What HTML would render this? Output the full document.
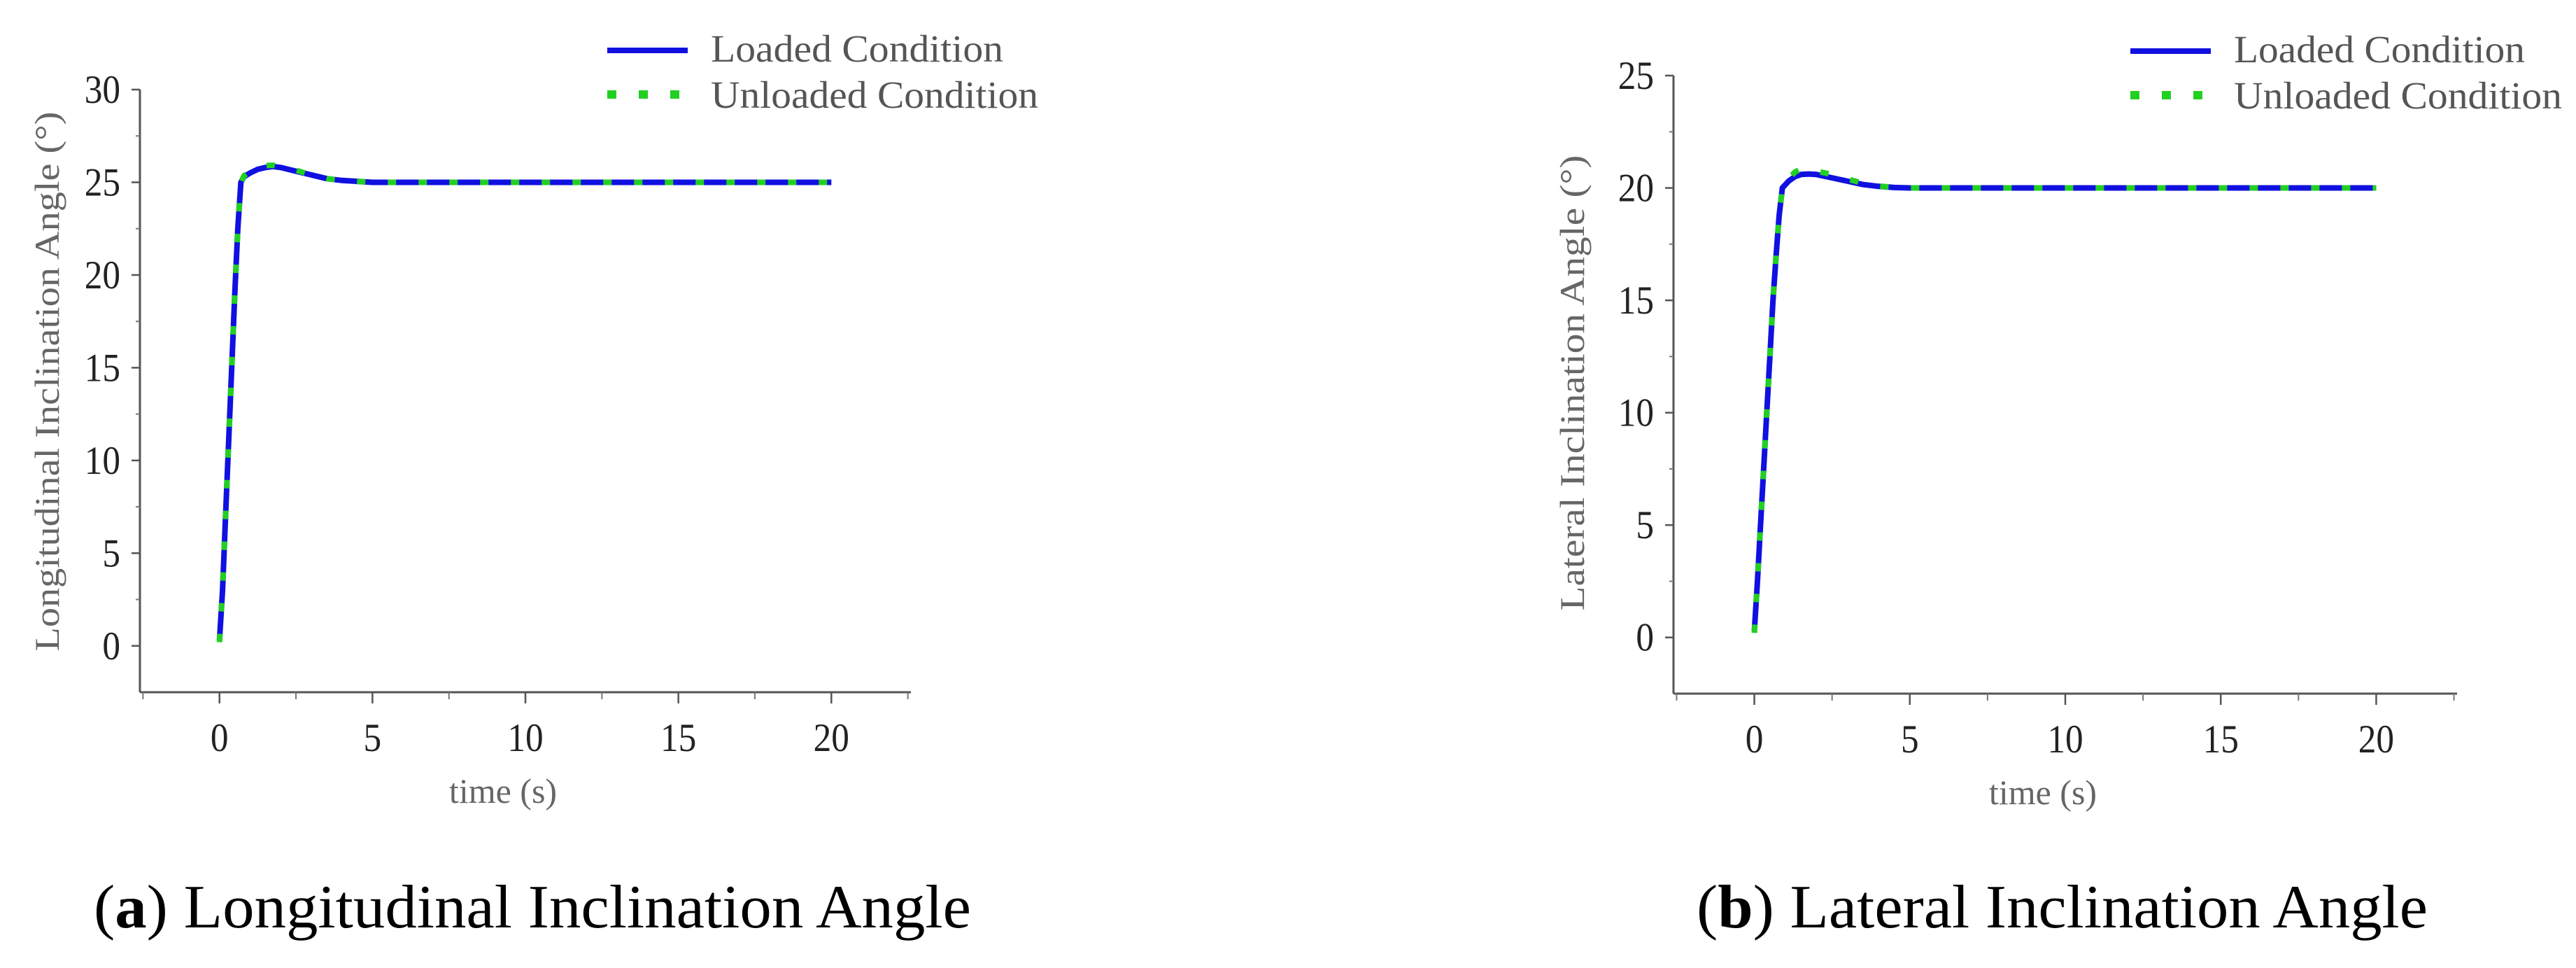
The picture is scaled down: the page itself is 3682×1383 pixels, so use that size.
<!DOCTYPE html>
<html><head><meta charset="utf-8"><style>
html,body{margin:0;padding:0;background:#fff;}
svg{display:block;}
</style></head><body>
<svg id="fig" width="3682" height="1383" viewBox="0 0 3682 1383" xmlns="http://www.w3.org/2000/svg">
<text x="134" y="1325" font-family="Liberation Serif, serif" font-size="88" fill="#000" textLength="1254" lengthAdjust="spacingAndGlyphs">(<tspan font-weight="bold">a</tspan>) Longitudinal Inclination Angle</text>
<text x="2425" y="1325" font-family="Liberation Serif, serif" font-size="88" fill="#000" textLength="1045" lengthAdjust="spacingAndGlyphs">(<tspan font-weight="bold">b</tspan>) Lateral Inclination Angle</text>
</svg>
<script>
// Chart A data
const timeA = [0,0.1,0.2,0.3,0.4,0.5,0.6,0.7,0.8,1.0,1.25,1.5,1.75,2,2.5,3,3.5,4,4.5,5,6,8,10,12,14,16,18,20];
const loadedA = [0.3,3,7,11,15,19,22.5,25,25.3,25.5,25.7,25.8,25.85,25.8,25.6,25.4,25.2,25.1,25.05,25.0,25,25,25,25,25,25,25,25];
const unloadedA = [0.2,3,7,11,15,19,22.5,25,25.35,25.6,25.8,25.9,25.92,25.85,25.65,25.4,25.2,25.1,25.05,25.0,25,25,25,25,25,25,25,25];
const yTicksA = [0,5,10,15,20,25,30];
// Chart B data
const timeB = [0,0.1,0.2,0.3,0.4,0.5,0.6,0.7,0.8,0.9,1.1,1.3,1.5,1.75,2,2.5,3,3.5,4,4.5,5,6,8,10,12,14,16,18,20];
const loadedB = [0.3,2.5,5,7.5,10,12.5,15,17,18.8,20,20.3,20.5,20.6,20.62,20.6,20.45,20.3,20.15,20.07,20.02,20.0,20,20,20,20,20,20,20,20];
const unloadedB = [0.2,2.5,5,7.5,10,12.5,15,17,18.8,20,20.4,20.7,20.85,20.8,20.75,20.6,20.4,20.2,20.08,20.03,20.0,20,20,20,20,20,20,20,20];
const yTicksB = [0,5,10,15,20,25];
const xTicks = [0,5,10,15,20];

const NS = 'http://www.w3.org/2000/svg';
const svg = document.getElementById('fig');
function mk(tag, attrs, parent){
  const e = document.createElementNS(NS, tag);
  for (const k in attrs) e.setAttribute(k, attrs[k]);
  (parent||svg).appendChild(e);
  return e;
}

function chart(cfg){
  const g = mk('g', {});
  
  
  const xMin=-2.6, xMax=22.6;
  const sx = v => cfg.x0 + (v - xMin) / (xMax - xMin) * (cfg.x1 - cfg.x0);
  const sy = v => cfg.yb - (v - cfg.yMin) / (cfg.yMax - cfg.yMin) * (cfg.yb - cfg.yt);
  const ya = mk('line', {x1:cfg.x0, y1:cfg.yt, x2:cfg.x0, y2:cfg.yb, stroke:'#555', 'stroke-width':3}, g);
  
  
  const xa = mk('line', {x1:cfg.x0, y1:cfg.yb, x2:cfg.x1, y2:cfg.yb, stroke:'#555', 'stroke-width':3}, g);
  
  
  cfg.yTicks.forEach((v,i) => {
    const y = sy(v);
    mk('line', {x1:cfg.x0-12, y1:y, x2:cfg.x0, y2:y, stroke:'#555', 'stroke-width':2.5}, g);
    if (i < cfg.yTicks.length-1) {
      const ym = sy(v+2.5);
      mk('line', {x1:cfg.x0-6, y1:ym, x2:cfg.x0, y2:ym, stroke:'#777', 'stroke-width':2}, g);
    }
    const t = mk('text', {x:cfg.x0-28, y:y+19, 'text-anchor':'end', 'font-family':'Liberation Serif, serif', 'font-size':57, fill:'#222', transform:`translate(${cfg.x0-28},0) scale(0.9,1) translate(${-(cfg.x0-28)},0)`}, g);
    t.textContent = v;
    
    
  });
  xTicks.forEach((v,i) => {
    const x = sx(v);
    mk('line', {x1:x, y1:cfg.yb, x2:x, y2:cfg.yb+16, stroke:'#555', 'stroke-width':2.5}, g);
    const xm = sx(v+2.5);
    mk('line', {x1:xm, y1:cfg.yb, x2:xm, y2:cfg.yb+10, stroke:'#777', 'stroke-width':2}, g);
    const t = mk('text', {x:x, y:cfg.yb+84, 'text-anchor':'middle', 'font-family':'Liberation Serif, serif', 'font-size':57, fill:'#222', transform:`translate(${x},0) scale(0.9,1) translate(${-x},0)`}, g);
    t.textContent = v;
    
    
  });
  mk('line', {x1:sx(-2.5), y1:cfg.yb, x2:sx(-2.5), y2:cfg.yb+10, stroke:'#777', 'stroke-width':2}, g);
  const xt = mk('text', {x:(sx(0)+sx(20))/2-32, y:cfg.yb+158, 'text-anchor':'middle', 'font-family':'Liberation Serif, serif', 'font-size':50, fill:'#666'}, g);
  xt.textContent = 'time (s)';
  
  
  const yt = mk('text', {x:0, y:0, 'text-anchor':'middle', 'font-family':'Liberation Serif, serif', 'font-size':cfg.ylFont, fill:'#666', textLength:cfg.ylLen, lengthAdjust:'spacingAndGlyphs', transform:`translate(${cfg.ylx},${cfg.yly}) rotate(-90)`}, g);
  yt.textContent = cfg.ylabel;
  
  
  const path = (ts, vs) => ts.map((t,i) => (i?'L':'M') + sx(t).toFixed(1) + ',' + sy(vs[i]).toFixed(1)).join(' ');
  const l = mk('path', {d:path(cfg.t, cfg.loaded), fill:'none', stroke:'#1010e0', 'stroke-width':8, 'stroke-linejoin':'round'}, g);
  
  
  const u = mk('path', {d:path(cfg.t, cfg.unloaded), fill:'none', stroke:'#22d022', 'stroke-width':8, 'stroke-dasharray':'12 32'}, g);
  
  
  const lg = mk('g', {}, g);
  
  
  mk('line', {x1:cfg.lx, y1:cfg.ly, x2:cfg.lx+115, y2:cfg.ly, stroke:'#1010e0', 'stroke-width':8}, lg);
  mk('line', {x1:cfg.lx, y1:cfg.ly+63, x2:cfg.lx+115, y2:cfg.ly+63, stroke:'#22d022', 'stroke-width':12, 'stroke-dasharray':'13 32'}, lg);
  const t1 = mk('text', {x:cfg.lx+148, y:cfg.ly+16, 'font-family':'Liberation Serif, serif', 'font-size':55, fill:'#555', textLength:cfg.l1, lengthAdjust:'spacingAndGlyphs'}, lg);
  t1.textContent = 'Loaded Condition';
  
  
  const t2 = mk('text', {x:cfg.lx+148, y:cfg.ly+82, 'font-family':'Liberation Serif, serif', 'font-size':55, fill:'#555', textLength:cfg.l2, lengthAdjust:'spacingAndGlyphs'}, lg);
  t2.textContent = 'Unloaded Condition';
  
  
}

chart({name:'chart-longitudinal', x0:200, x1:1302, yt:128, yb:989, yMin:-2.5, yMax:30,
  yTicks:yTicksA, t:timeA, loaded:loadedA, unloaded:unloadedA,
  ylabel:'Longitudinal Inclination Angle (°)', ylx:84, yly:545, ylFont:50, ylLen:771, lx:868, ly:72, l1:418, l2:468});
chart({name:'chart-lateral', x0:2392, x1:3512, yt:108, yb:991, yMin:-2.5, yMax:25,
  yTicks:yTicksB, t:timeB, loaded:loadedB, unloaded:unloadedB,
  ylabel:'Lateral Inclination Angle (°)', ylx:2264, yly:547, ylFont:50, ylLen:651, lx:3045, ly:73, l1:416, l2:469});
</script>
</body></html>
